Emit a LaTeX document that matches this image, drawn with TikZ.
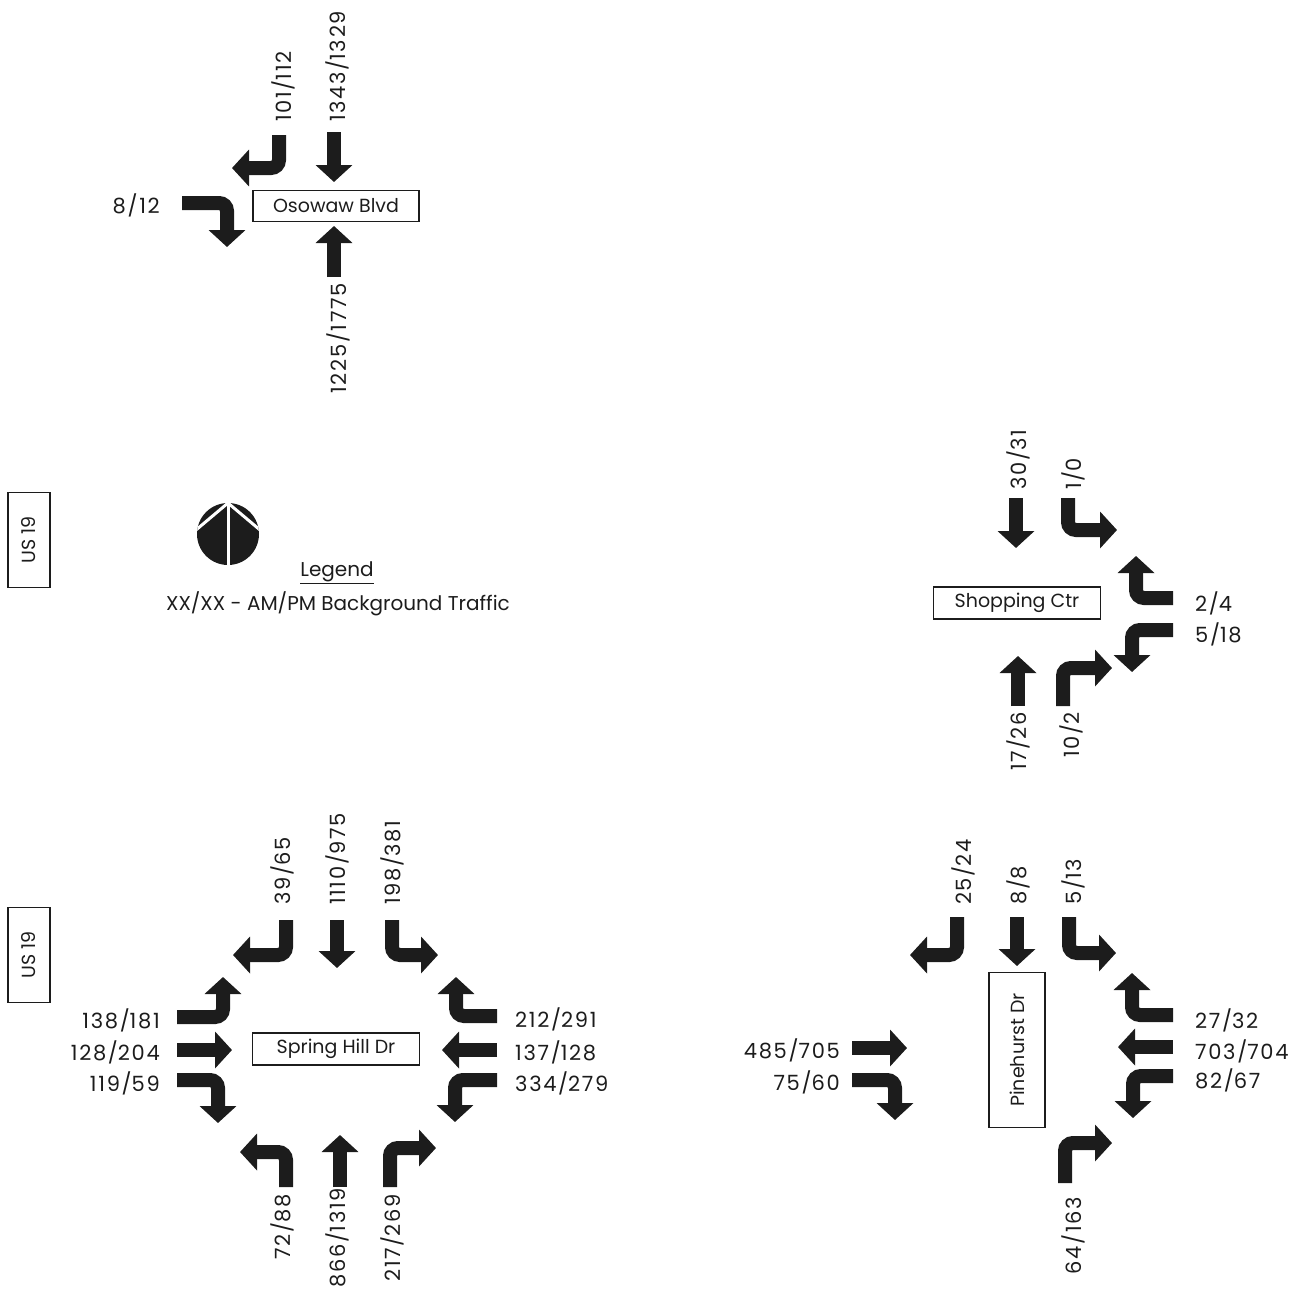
\documentclass[tikz,border=0pt]{standalone}
\usepackage{fontspec}
\setmainfont{Poppins}
\newfontfamily\volfont{Poppins}[LetterSpace=8]
\usetikzlibrary{arrows.meta}
\definecolor{ink}{RGB}{28,28,28}
\tikzset{
  mv/.style={draw=ink,line width=14pt,rounded corners=8pt,
    -{Triangle[width=36pt,length=17pt]}},
  vol/.style={inner sep=0pt,text=ink,font=\volfont\fontsize{21}{25}\selectfont},
  upvol/.style={vol,rotate=90},
  note/.style={inner sep=0pt,text=ink,font=\fontsize{20}{24}\selectfont},
  street/.style={draw=ink,line width=1.5pt,inner sep=0pt,text=ink,
    font=\fontsize{19}{23}\selectfont,minimum width=167pt,minimum height=32pt},
}
\begin{document}
\begin{tikzpicture}[x=1pt,y=-1pt]
\useasboundingbox (0,0) rectangle (1299,1293);

% Osowaw Blvd
\node[street,minimum width=166pt,minimum height=31pt] (osowaw) at (336,206) {Osowaw Blvd};
\draw[mv] (279,135) |- (232,168);
\draw[mv] (334,132) -- (334,182);
\draw[mv] (334,277) -- (334,226);
\draw[mv] (182,203) -| (227,247);
\foreach \x/\t [count=\i] in {283/101\slash 112,337/1343\slash 1329}
  \node[upvol,anchor=west] (osn\i) at (\x,122) {\t};
\node[upvol,anchor=east] (oss) at (338,283) {1225/1775};
\node[vol,anchor=east] (osw) at (160,205) {8/12};

% legend
\node[street,rotate=90,minimum width=95pt,minimum height=42pt] (us1) at (29,540) {US 19};
\fill[ink] (228,534) circle (31pt);
\begin{scope}
  \clip (228,534) circle (31pt);
  \draw[white,line width=3pt] (228,503) -- (228,570);
  \draw[white,line width=3pt] (190,535) -- (228,503) -- (266,535);
\end{scope}
\node[note] (legend) at (337,573) {\underline{Legend}};
\node[note] (key) at (338,604) {XX/XX - AM/PM Background Traffic};

% Shopping Ctr
\node[street] (shop) at (1017,603) {Shopping Ctr};
\draw[mv] (1016,498) -- (1016,548);
\draw[mv] (1068,498) |- (1117,530);
\draw[mv] (1173,598) -| (1136,556);
\draw[mv] (1173,630) -| (1132,672);
\draw[mv] (1018,706) -- (1018,656);
\draw[mv] (1063,706) |- (1112,668);
\foreach \x/\t [count=\i] in {1018/30\slash 31,1073/1\slash 0}
  \node[upvol,anchor=west] (shn\i) at (\x,490) {\t};
\foreach \x/\t [count=\i] in {1018/17\slash 26,1071/10\slash 2}
  \node[upvol,anchor=east] (shs\i) at (\x,712) {\t};
\foreach \y/\t [count=\i] in {603/2\slash 4,634/5\slash 18}
  \node[vol,anchor=west] (she\i) at (1195,\y) {\t};

% Spring Hill Dr
\node[street,rotate=90,minimum width=95pt,minimum height=42pt] (us2) at (29,955) {US 19};
\node[street] (spring) at (336,1049) {Spring Hill Dr};
\draw[mv] (286,920) |- (233,955);
\draw[mv] (337,920) -- (337,968);
\draw[mv] (392,920) |- (438,955);
\draw[mv] (177,1017) -| (223,977);
\draw[mv] (177,1050) -- (232,1050);
\draw[mv] (177,1080) -| (218,1123);
\draw[mv] (497,1016) -| (456,977);
\draw[mv] (497,1050) -- (442,1050);
\draw[mv] (497,1080) -| (455,1122);
\draw[mv] (286,1187) |- (240,1152);
\draw[mv] (340,1187) -- (340,1135);
\draw[mv] (390,1187) |- (436,1148);
\foreach \x/\t [count=\i] in {282/39\slash 65,337/1110\slash 975,392/198\slash 381}
  \node[upvol,anchor=west] (spn\i) at (\x,905) {\t};
\foreach \x/\y/\t [count=\i] in {282/1194/72\slash 88,337/1188/866\slash 1319,392/1194/217\slash 269}
  \node[upvol,anchor=east] (sps\i) at (\x,\y) {\t};
\foreach \y/\t [count=\i] in {1020/138\slash 181,1052/128\slash 204,1083/119\slash 59}
  \node[vol,anchor=east] (spw\i) at (160,\y) {\t};
\foreach \y/\t [count=\i] in {1019/212\slash 291,1052/137\slash 128,1083/334\slash 279}
  \node[vol,anchor=west] (spe\i) at (515,\y) {\t};

% Pinehurst Dr
\node[street,rotate=90,minimum width=155pt,minimum height=56pt] (pine) at (1017,1050) {Pinehurst Dr};
\draw[mv] (957,917) |- (910,955);
\draw[mv] (1017,917) -- (1017,966);
\draw[mv] (1069,917) |- (1116,953);
\draw[mv] (852,1048) -- (907,1048);
\draw[mv] (852,1080) -| (895,1120);
\draw[mv] (1173,1015) -| (1132,973);
\draw[mv] (1173,1047) -- (1118,1047);
\draw[mv] (1173,1076) -| (1133,1118);
\draw[mv] (1065,1183) |- (1112,1143);
\foreach \x/\t [count=\i] in {963/25\slash 24,1018/8\slash 8,1073/5\slash 13}
  \node[upvol,anchor=west] (pin\i) at (\x,905) {\t};
\node[upvol,anchor=east] (pis) at (1073,1197) {64/163};
\foreach \y/\t [count=\i] in {1050/485\slash 705,1082/75\slash 60}
  \node[vol,anchor=east] (piw\i) at (840,\y) {\t};
\foreach \y/\t [count=\i] in {1020/27\slash 32,1051/703\slash 704,1080/82\slash 67}
  \node[vol,anchor=west] (pie\i) at (1195,\y) {\t};
\end{tikzpicture}
\end{document}
